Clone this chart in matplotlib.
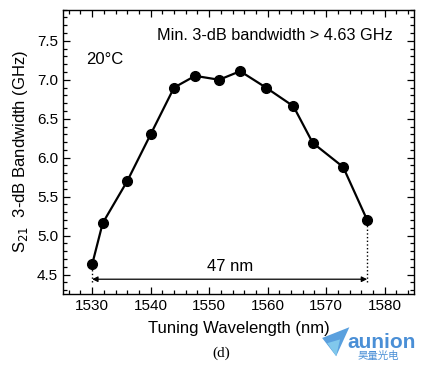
import matplotlib
matplotlib.use("Agg")
import matplotlib.pyplot as plt
from matplotlib.ticker import MultipleLocator
from matplotlib.patches import Polygon

wavelength = [1530, 1531.8, 1536, 1540, 1544, 1547.6, 1551.7, 1555.3, 1559.7, 1564.4, 1567.7, 1572.9, 1577]
bandwidth = [4.63, 5.16, 5.70, 6.30, 6.90, 7.05, 7.00, 7.11, 6.90, 6.66, 6.19, 5.88, 5.20]
span_label = "47 nm"
note_text = "Min. 3-dB bandwidth > 4.63 GHz"
temp_text = "20°C"

plt.rcParams['font.family'] = ['Liberation Sans', 'DejaVu Sans']

fig = plt.figure(figsize=(4.25, 3.71), dpi=100)
ax = fig.add_axes([0.148, 0.2075, 0.826, 0.7665])

ax.plot(wavelength, bandwidth, color='black', lw=1.6, marker='o', ms=7, zorder=3)

ax.set_xlim(1525, 1585)
ax.set_ylim(4.25, 7.9)
ax.xaxis.set_major_locator(MultipleLocator(10))
ax.xaxis.set_minor_locator(MultipleLocator(2))
ax.yaxis.set_major_locator(MultipleLocator(0.5))
ax.yaxis.set_minor_locator(MultipleLocator(0.1))
ax.tick_params(which='both', direction='in', top=True, right=True, labelsize=11, width=0.9)
ax.tick_params(which='major', length=5)
ax.tick_params(which='minor', length=3)
for s in ax.spines.values():
    s.set_linewidth(1.0)

ax.set_xlabel("Tuning Wavelength (nm)", fontsize=12, labelpad=6)
ax.set_ylabel("S$_{21}$  3-dB Bandwidth (GHz)", fontsize=12, labelpad=5)

# span arrow
y_arrow = 4.44
ax.annotate("", xy=(wavelength[0], y_arrow), xytext=(wavelength[-1], y_arrow),
            arrowprops=dict(arrowstyle='<|-|>', color='black', lw=0.9,
                            mutation_scale=8, shrinkA=0, shrinkB=0))
ax.plot([wavelength[0], wavelength[0]], [y_arrow - 0.04, bandwidth[0]], ls=':', color='black', lw=1.0)
ax.plot([wavelength[-1], wavelength[-1]], [y_arrow - 0.04, bandwidth[-1]], ls=':', color='black', lw=1.0)
ax.text((wavelength[0] + wavelength[-1]) / 2, y_arrow + 0.07, span_label, ha='center', va='bottom', fontsize=12)

ax.text(0.94, 0.935, note_text, transform=ax.transAxes, ha='right', va='top', fontsize=11.7)
ax.text(0.065, 0.826, temp_text, transform=ax.transAxes, ha='left', va='center', fontsize=12)

fig.text(0.52, 0.048, "(d)", family='Liberation Serif', fontsize=11, ha='center', va='center')

# watermark
fig.patches.append(Polygon([[0.758, 0.089], [0.822, 0.118], [0.791, 0.040]], closed=True,
                           transform=fig.transFigure, facecolor='#3d8fd9', alpha=0.85, edgecolor='none'))
fig.patches.append(Polygon([[0.770, 0.075], [0.800, 0.085], [0.791, 0.040]], closed=True,
                           transform=fig.transFigure, facecolor='#86cdee', alpha=0.9, edgecolor='none'))
fig.text(0.897, 0.078, "aunion", color='#4a8fd6', fontsize=15, fontweight='bold', ha='center', va='center')
fig.text(0.889, 0.040, "昊量光电", color='#4a8fd6', fontsize=7.5, ha='center', va='center',
         family=['Noto Sans CJK SC', 'DejaVu Sans'])

fig.savefig("out.png", dpi=100)
